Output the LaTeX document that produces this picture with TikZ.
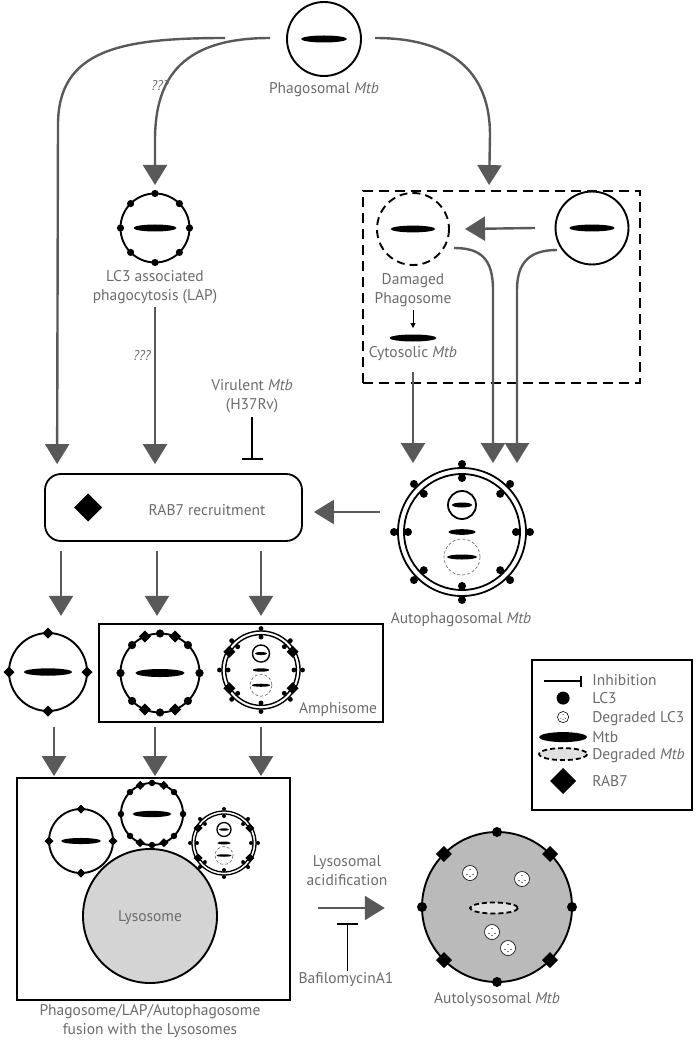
\documentclass[tikz,border=0pt]{standalone}
\usepackage{fontspec}
\setmainfont{PT Sans}
\usetikzlibrary{arrows.meta, calc}
\colorlet{flow grey}{black!65}
\colorlet{text grey}{black!58}
\colorlet{lyso area}{black!17}
\colorlet{autolyso area}{black!27}
\colorlet{debris area}{black!12}
\newcommand\txtfont{\fontsize{15.5}{19}\selectfont}
\newcommand\askfont{\fontsize{14}{16}\selectfont\itshape}
\def\rabshape#1{++(0,-#1) -- ++(#1,#1) -- ++(-#1,#1) -- ++(-#1,-#1) -- cycle}
\tikzset{
  membrane/.style={draw=black, line width=1.9pt},
  broken/.style={membrane, dash pattern=on 8pt off 5pt},
  smalldash/.style={draw=black!55, line width=0.7pt, dash pattern=on 3pt off 2pt},
  mtbdebris/.style={draw=black, line width=1.8pt, dash pattern=on 5pt off 3pt, fill=debris area},
  flow/.style={draw=flow grey, line width=2.4pt, -{Triangle[length=20pt, width=24pt]}},
  block/.style={draw=black, line width=1.8pt, -{Bar[width=#1]}},
  block/.default=21pt,
  cell/.style={circle, inner sep=0pt, draw=none},
  box/.style={draw=black, line width=1.8pt, inner sep=0pt},
  txt/.style={text=text grey, font=\txtfont, align=center, inner sep=0pt},
  ask/.style={text=text grey, font=\askfont, inner sep=0pt}
}
\newcommand\phagosome[3]{%
  \begin{scope}[shift={(#1)}, scale=#2]
    \draw[#3] (0,0) circle (37);
    \fill (0,0) ellipse [x radius=23, y radius=3.5];
  \end{scope}}
\newcommand\lapsome[2]{%
  \begin{scope}[shift={(#1)}, scale=#2]
    \draw[membrane] (0,0) circle (34.5);
    \fill (0,0) ellipse [x radius=21.5, y radius=3.5];
    \foreach \a in {0,45,...,315}
      \fill (\a:34.5) circle (3.6);
  \end{scope}}
\newcommand\autosome[3]{%
  \begin{scope}[shift={(#1)}, scale=#2]
    \draw[line width=#3] (0,0) circle (64) (0,0) circle (58);
    \foreach \a in {0,45,...,315}
      \fill (\a:68) circle (4) (\a:54) circle (4);
    \draw[line width=#3] (0,-27) circle (14);
    \fill (0,-27) ellipse [x radius=10, y radius=2.5];
    \fill (0,0) ellipse [x radius=13.5, y radius=2.8];
    \draw[smalldash] (0,25) circle (18);
    \fill (0,25) ellipse [x radius=15, y radius=2.5];
  \end{scope}}
\newcommand\rabs[4]{%
  \foreach \a in {#4}
    \fill ($(#1)+(\a:#2)$) \rabshape{#3};}
\newcommand\lcdebris[2]{%
  \begin{scope}[shift={(#1)}, scale=#2]
    \draw[fill=white, line width=0.6pt] (0,0) circle (7.5);
    \foreach \ex/\ey in {0/-3.5, -3/1.5, 3/1.5, 0/3.5}
      \fill (\ex,\ey) circle (0.6);
  \end{scope}}

\begin{document}
\begin{tikzpicture}[x=1pt, y=-1pt]
  \useasboundingbox (0,0) rectangle (697,1040);

  % frames
  \node[box, dash pattern=on 10pt off 6pt, minimum width=277, minimum height=192] (escapebox) at (501.5,287) {};
  \node[box, rounded corners=16pt, minimum width=257, minimum height=67] (rabbox) at (173.5,507.5) {};
  \node[box, minimum width=284, minimum height=98] (amphibox) at (241,673) {};
  \node[box, minimum width=273, minimum height=222] (fusionbox) at (153.5,889) {};
  \node[box, minimum width=160, minimum height=150] (legend) at (612,735) {};

  % cells
  \node[cell, minimum size=74] (phago) at (324,39) {};
  \node[cell, minimum size=69] (lap) at (155,228) {};
  \node[cell, minimum size=72] (damaged) at (413,229) {};
  \node[cell, minimum size=73] (intact) at (592,228) {};
  \coordinate (cytobug) at (413,338);
  \node[cell, minimum size=136] (auto) at (462,532) {};
  \node[cell, minimum size=78] (rabcell) at (48,672) {};
  \node[cell, minimum size=79] (amphilap) at (160,673) {};
  \node[cell, minimum size=78] (amphiauto) at (261,670) {};
  \node[cell, minimum size=64] (fphago) at (81,841) {};
  \node[cell, minimum size=62] (flap) at (152,814) {};
  \node[cell, minimum size=64] (fauto) at (224,843) {};
  \node[cell, minimum size=134] (lyso) at (150,916) {};
  \node[cell, minimum size=150] (autolyso) at (497,907) {};

  \phagosome{phago}{1}{membrane}
  \lapsome{lap}{1}
  \phagosome{damaged}{0.973}{broken}
  \phagosome{intact}{0.986}{membrane}
  \fill (cytobug) ellipse [x radius=23.5, y radius=3.5];
  \autosome{auto}{1}{1.8pt}
  \phagosome{rabcell}{1.054}{membrane}
  \rabs{rabcell}{39}{5.5}{0,90,180,270}
  \lapsome{amphilap}{1.145}
  \rabs{amphilap}{39.5}{6}{67.5,112.5,247.5,292.5}
  \autosome{amphiauto}{0.61}{1.4pt}
  \rabs{amphiauto}{36.5}{6}{30,150,210,330}
  \phagosome{fphago}{0.865}{membrane}
  \rabs{fphago}{32}{4.5}{0,90,180,270}
  \lapsome{flap}{0.9}
  \rabs{flap}{31}{4.5}{67.5,112.5,247.5,292.5}
  \autosome{fauto}{0.5}{1.3pt}
  \rabs{fauto}{30}{4.5}{30,150,210,330}
  \draw[membrane, fill=lyso area] (lyso) circle (67);
  \draw[membrane, fill=autolyso area] (autolyso) circle (75);
  \foreach \a in {0,90,180,270}
    \fill ($(autolyso)+(\a:75)$) circle (5);
  \rabs{autolyso}{75}{8}{45,135,225,315}
  \foreach \dx/\dy in {-27/-34, 25/-28, -5/25, 11/41}
    {\lcdebris{$(autolyso)+(\dx,\dy)$}{1}}
  \draw[mtbdebris] ($(autolyso)+(-3,1)$) ellipse [x radius=24, y radius=5.5];
  \fill ($(rabbox.west)+(44,0)$) \rabshape{14};

  % connectors
  \draw[flow] ($(phago)+(-99,-1)$) .. controls (120,38) and (58,50) .. (58,125) -- ($(rabbox.north west)+(13,-9)$);
  \draw[flow] ($(phago)+(-54,-1)$) .. controls (185,38) and (155,75) .. (155,140) -- ($(lap)+(0,-43)$);
  \draw[flow] ($(phago)+(51,-1)$) .. controls (455,38) and (490,75) .. (490,135) -- ($(escapebox.north west)+(127,-5)$);
  \draw[flow] ($(intact)+(-57,0)$) -- ($(damaged)+(52,0)$);
  \draw[line width=0.8pt, -{Triangle[length=5pt, width=5pt]}] ($(damaged)+(0,81)$) -- ($(damaged)+(0,99)$);
  \draw[flow] ($(damaged)+(41,19)$) .. controls (480,248) and (493,258) .. (493,290) -- ($(auto)+(31,-69)$);
  \draw[flow] ($(intact)+(-35,22)$) .. controls (530,250) and (517,262) .. (517,290) -- ($(auto)+(55,-69)$);
  \draw[flow] ($(cytobug)+(0,34)$) -- ($(auto)+(-49,-69)$);
  \draw[flow] ($(auto)+(-82,-20)$) -- ($(rabbox.east)+(11,4.5)$);
  \draw[flow] ($(lap)+(0,79)$) -- ($(rabbox.north -| lap)+(0,-9)$);
  \draw[block] ($(rabbox.north)+(78.5,-56)$) -- ($(rabbox.north)+(78.5,-13)$);
  \foreach \dx in {-112.5,-16.5,87.5}
    \draw[flow] ($(rabbox.south)+(\dx,9)$) -- ($(rabbox.south)+(\dx,74)$);
  \foreach \dx in {-99.5,1.5,107.5}
    \draw[flow] ($(fusionbox.north)+(\dx,-50)$) -- ($(fusionbox.north)+(\dx,-1)$);
  \draw[flow] ($(fusionbox.east)+(27,19)$) -- ($(autolyso.west)+(-37,1)$);
  \draw[block] ($(fusionbox.east)+(56.5,82)$) -- ($(fusionbox.east)+(56.5,34)$);

  % legend
  \draw[block=11pt] ($(legend.north west)+(13,22)$) -- ($(legend.north west)+(51,22)$);
  \fill ($(legend.north west)+(32,39)$) circle (6.5);
  \lcdebris{$(legend.north west)+(32,58)$}{0.75}
  \fill ($(legend.north west)+(32,78)$) ellipse [x radius=24, y radius=5];
  \draw[mtbdebris] ($(legend.north west)+(32,95)$) ellipse [x radius=24, y radius=6];
  \fill ($(legend.north west)+(32,122)$) \rabshape{13};
  \node[txt, anchor=base west] (keyinhib) at ($(legend.north west)+(61,26)$) {Inhibition};
  \node[txt, anchor=base west] (keylc) at ($(legend.north west)+(61,44)$) {LC3};
  \node[txt, anchor=base west] (keydeglc) at ($(legend.north west)+(61,63)$) {Degraded LC3};
  \node[txt, anchor=base west] (keymtb) at ($(legend.north west)+(61,83)$) {Mtb};
  \node[txt, anchor=base west] (keydegmtb) at ($(legend.north west)+(61,100)$) {Degraded \textit{Mtb}};
  \node[txt, anchor=base west] (keyrab) at ($(legend.north west)+(61,127)$) {RAB7};

  % labels
  \node[txt, anchor=base] (phagotext) at (324,94) {Phagosomal \textit{Mtb}};
  \node[ask, anchor=base] (askone) at (160,91) {???};
  \node[txt, anchor=base] (laptext) at (155,300) {LC3 associated\\phagocytosis (LAP)};
  \node[ask, anchor=base] (asktwo) at (142,360) {???};
  \node[txt, anchor=base] (virtext) at (252,409) {Virulent \textit{Mtb}\\(H37Rv)};
  \node[txt, anchor=base] (damtext) at (413,303) {Damaged\\Phagosome};
  \node[txt, anchor=base] (cytotext) at (413,357) {Cytosolic \textit{Mtb}};
  \node[txt, anchor=base] (rabtext) at (207,515) {RAB7 recruitment};
  \node[txt, anchor=base] (autotext) at (461,623) {Autophagosomal \textit{Mtb}};
  \node[txt, anchor=base] (amphitext) at (338,713) {Amphisome};
  \node[txt, anchor=base] (lysotext) at (150,921) {Lysosome};
  \node[txt, anchor=base] (fusiontext) at (150,1034) {Phagosome/LAP/Autophagosome\\fusion with the Lysosomes};
  \node[txt, anchor=base] (acidtext) at (347,885) {Lysosomal\\acidification};
  \node[txt, anchor=base] (bafilotext) at (346,983) {BafilomycinA1};
  \node[txt, anchor=base] (autolysotext) at (497,1003) {Autolysosomal \textit{Mtb}};
\end{tikzpicture}
\end{document}
